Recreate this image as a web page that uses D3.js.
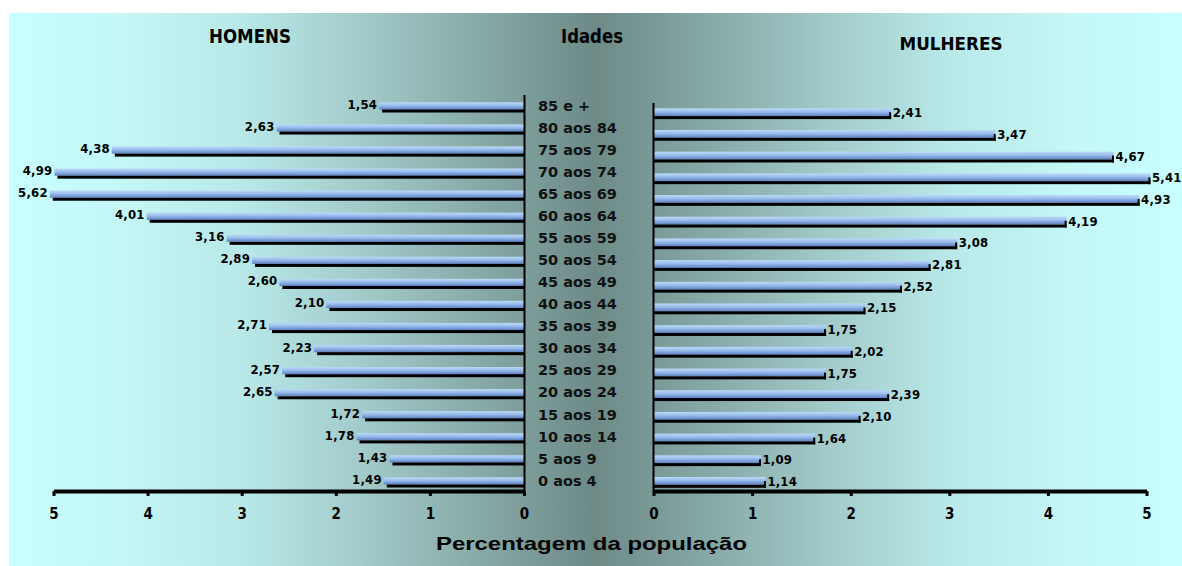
<!DOCTYPE html>
<meta charset="utf-8">
<head>
<style>
  body { margin: 0; background: #fff; }
  svg { display: block; }
</style>
</head>
<body>
    <div id="my_dataviz"></div>
    <script src="https://d3js.org/d3.v7.min.js"></script>
<script>
    // age groups, top to bottom
    const ages = ["85 e +", "80 aos 84", "75 aos 79", "70 aos 74", "65 aos 69", "60 aos 64",
      "55 aos 59", "50 aos 54", "45 aos 49", "40 aos 44", "35 aos 39", "30 aos 34",
      "25 aos 29", "20 aos 24", "15 aos 19", "10 aos 14", "5 aos 9", "0 aos 4"];
    const homens = [1.54, 2.63, 4.38, 4.99, 5.62, 4.01, 3.16, 2.89, 2.60, 2.10, 2.71, 2.23,
      2.57, 2.65, 1.72, 1.78, 1.43, 1.49];
    const mulheres = [2.41, 3.47, 4.67, 5.41, 4.93, 4.19, 3.08, 2.81, 2.52, 2.15, 1.75, 2.02,
      1.75, 2.39, 2.10, 1.64, 1.09, 1.14];
    const ticks = [0, 1, 2, 3, 4, 5];

    const W = 1182, H = 566;
    const cond = "'DejaVu Sans Condensed','Liberation Sans Narrow','Liberation Sans',sans-serif";

    const svg = d3.select("#my_dataviz")
      .append("svg")
        .attr("width", W)
        .attr("height", H);

    // background gradient (light cyan on the edges, dark grey-teal in the middle)
    const defs = svg.append("defs");
    const bg = defs.append("linearGradient").attr("id", "bg");
    [[0, "#c8ffff"], [0.1, "#c4f6f6"], [0.2, "#b8e8e8"], [0.3, "#a2cbca"], [0.4, "#87aaa8"],
     [0.5, "#6d8a87"], [0.6, "#87aaa8"], [0.7, "#a2cbca"], [0.8, "#b8e8e8"], [0.9, "#c4f6f6"], [1, "#c8ffff"]]
      .forEach(s => bg.append("stop").attr("offset", s[0]).attr("stop-color", s[1]));

    const barGrad = defs.append("linearGradient").attr("id", "bar")
      .attr("x1", 0).attr("y1", 0).attr("x2", 0).attr("y2", 1);
    [[0, "#bcdaf8"], [0.45, "#98bcec"], [1, "#5f7fc2"]]
      .forEach(s => barGrad.append("stop").attr("offset", s[0]).attr("stop-color", s[1]));

    svg.append("rect")
      .attr("x", 9).attr("y", 13)
      .attr("width", W - 9).attr("height", H - 13)
      .attr("fill", "url(#bg)");

    // scales
    const xL = d3.scaleLinear().domain([0, 5]).range([524, 53.5]);
    const xR = d3.scaleLinear().domain([0, 5]).range([653.5, 1146.5]);
    const y = d3.scalePoint().domain(ages).range([110.7, 485.7]);   // age label baselines, left bars
    const yR = d3.scalePoint().domain(ages).range([117.3, 486]);    // right side sits a bit lower
    const cap = 5.04;
    const fmt = v => d3.format(".2f")(v).replace(".", ",");

    // titles
    svg.append("text").attr("x", 250).attr("y", 42.5).attr("text-anchor", "middle")
      .style("font-family", cond).style("font-weight", "bold").style("font-size", "19px")
      .attr("textLength", 82).attr("lengthAdjust", "spacingAndGlyphs")
      .text("HOMENS");
    svg.append("text").attr("x", 951).attr("y", 50).attr("text-anchor", "middle")
      .style("font-family", cond).style("font-weight", "bold").style("font-size", "18px")
      .attr("textLength", 103).attr("lengthAdjust", "spacingAndGlyphs")
      .text("MULHERES");
    svg.append("text").attr("x", 592).attr("y", 43).attr("text-anchor", "middle")
      .style("font-family", "'DejaVu Sans',Verdana,sans-serif").style("font-weight", "bold").style("font-size", "19px")
      .attr("textLength", 62).attr("lengthAdjust", "spacingAndGlyphs")
      .text("Idades");
    svg.append("text").attr("x", 591.5).attr("y", 549.5).attr("text-anchor", "middle")
      .style("font-family", "'Liberation Sans',Arial,sans-serif").style("font-weight", "bold").style("font-size", "19px")
      .attr("textLength", 311).attr("lengthAdjust", "spacingAndGlyphs")
      .text("Percentagem da população");

    // left bars (homens)
    const left = svg.append("g");
    homens.forEach((v, i) => {
      const b = y(ages[i]);
      const x0 = xL(Math.min(v, cap));
      left.append("rect").attr("x", x0).attr("y", b - 8.4).attr("width", 524 - x0).attr("height", 7.2)
        .attr("fill", "url(#bar)");
      left.append("rect").attr("x", x0 + 3).attr("y", b - 1.2).attr("width", 524 - x0 - 3).attr("height", 3)
        .attr("fill", "#000");
      left.append("text").attr("x", x0 - 2).attr("y", b - 1.8).attr("text-anchor", "end")
        .style("font-family", cond).style("font-weight", "bold").style("font-size", "13px")
        .style("letter-spacing", "0.2px")
        .text(fmt(v));
    });

    // right bars (mulheres)
    const right = svg.append("g");
    mulheres.forEach((v, i) => {
      const b = yR(ages[i]);
      const x1 = xR(Math.min(v, cap));
      right.append("rect").attr("x", 654).attr("y", b - 9).attr("width", x1 - 654).attr("height", 7.8)
        .attr("fill", "url(#bar)");
      right.append("rect").attr("x", 654).attr("y", b - 1.2).attr("width", x1 - 654).attr("height", 3)
        .attr("fill", "#000");
      right.append("rect").attr("x", x1 - 2).attr("y", b - 5).attr("width", 2).attr("height", 6.8)
        .attr("fill", "#000");
      right.append("text").attr("x", x1 + 1.5).attr("y", b).attr("text-anchor", "start")
        .style("font-family", cond).style("font-weight", "bold").style("font-size", "13px")
        .style("letter-spacing", "0.2px")
        .text(fmt(v));
    });

    // age labels
    svg.append("g").selectAll("text")
      .data(ages)
      .join("text")
        .attr("x", 538)
        .attr("y", d => y(d))
        .style("font-family", "'DejaVu Sans',Verdana,sans-serif")
        .style("font-weight", "bold")
        .style("font-size", "14.5px")
        .style("fill", "#111")
        .text(d => d);

    // vertical axis lines
    svg.append("line").attr("x1", 524.5).attr("x2", 524.5).attr("y1", 95).attr("y2", 491)
      .attr("stroke", "#000").attr("stroke-width", 2);
    svg.append("line").attr("x1", 653.5).attr("x2", 653.5).attr("y1", 103).attr("y2", 491)
      .attr("stroke", "#000").attr("stroke-width", 2);

    // bottom axes
    function styleAxis(g) {
      g.select(".domain").attr("stroke", "#000").attr("stroke-width", 4);
      g.selectAll(".tick line").attr("stroke", "#000").attr("stroke-width", 3);
      g.selectAll(".tick text")
        .style("font-family", cond).style("font-weight", "bold").style("font-size", "15px")
        .attr("fill", "#000");
    }
    svg.append("g")
      .attr("transform", "translate(0, 491)")
      .call(d3.axisBottom(xL).tickValues(ticks).tickSize(5).tickSizeOuter(0).tickPadding(12).tickFormat(d3.format("d")))
      .call(styleAxis);
    svg.append("g")
      .attr("transform", "translate(0, 491)")
      .call(d3.axisBottom(xR).tickValues(ticks).tickSize(5).tickSizeOuter(0).tickPadding(12).tickFormat(d3.format("d")))
      .call(styleAxis);
</script>
</body>
